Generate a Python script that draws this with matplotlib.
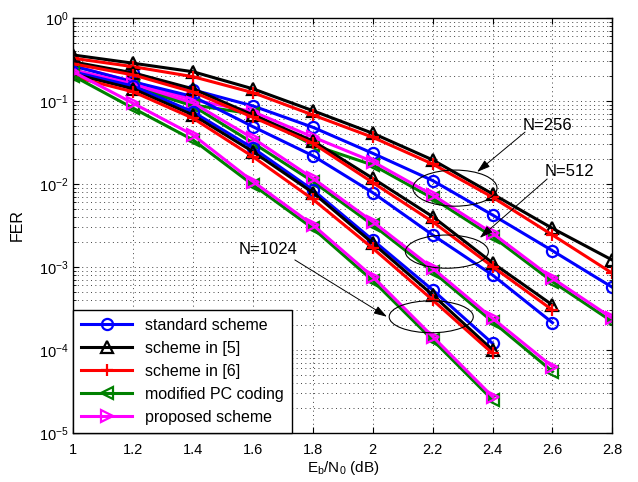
# FER vs Eb/N0 for polar code schemes, N = 256 / 512 / 1024
import numpy as np
import matplotlib
matplotlib.use("Agg")
import matplotlib.pyplot as plt
from matplotlib.patches import Ellipse
from matplotlib.ticker import FixedLocator, FormatStrFormatter, LogLocator

plt.rcParams['font.family'] = ['Liberation Sans', 'DejaVu Sans']
plt.rcParams['mathtext.fontset'] = 'custom'
plt.rcParams['mathtext.rm'] = 'Liberation Sans'
plt.rcParams['mathtext.it'] = 'Liberation Sans'

# 数据
ebn0 = [1.0, 1.2, 1.4, 1.6, 1.8, 2.0, 2.2, 2.4, 2.6, 2.8]

# N=256
std_256 = [0.285, 0.216, 0.136, 0.0871, 0.0482, 0.0234, 0.0110, 0.00423, 0.00157, 0.000569]
s5_256 = [0.358, 0.285, 0.225, 0.140, 0.0764, 0.0408, 0.0195, 0.00758, 0.00292, 0.00121]
s6_256 = [0.327, 0.259, 0.196, 0.126, 0.0678, 0.0365, 0.0174, 0.00692, 0.00243, 0.00084]
mod_256 = [0.236, 0.156, 0.0895, 0.0697, 0.0295, 0.0169, 0.00673, 0.00232, 0.000665, 0.000219]
prop_256 = [0.264, 0.171, 0.103, 0.0743, 0.0368, 0.0186, 0.00737, 0.00255, 0.000731, 0.000241]

# N=512
std_512 = [0.264, 0.17, 0.113, 0.049, 0.0219, 0.00786, 0.00243, 0.0008, 0.000213]
s5_512 = [0.295, 0.218, 0.140, 0.0678, 0.0330, 0.0117, 0.00404, 0.00112, 0.000348]
s6_512 = [0.28, 0.206, 0.128, 0.0636, 0.0309, 0.0104, 0.00351, 0.00101, 0.000303]
mod_512 = [0.217, 0.147, 0.0870, 0.0312, 0.0107, 0.00321, 0.000878, 0.000219, 5.5e-5]
prop_512 = [0.236, 0.160, 0.0946, 0.0355, 0.0117, 0.00351, 0.000965, 0.000241, 6.3e-5]

# N=1024
std_1024 = [0.224, 0.151, 0.0737, 0.0271, 0.00847, 0.00211, 0.000528, 0.00012]
s5_1024 = [0.212, 0.14, 0.0678, 0.0245, 0.00786, 0.00193, 0.00046, 0.0001]
s6_1024 = [0.196, 0.129, 0.0619, 0.0213, 0.00654, 0.00168, 0.0004, 9.1e-5]
mod_1024 = [0.2, 0.0817, 0.0339, 0.00973, 0.00292, 0.000684, 0.000132, 2.5e-5]
prop_1024 = [0.224, 0.0938, 0.0389, 0.0107, 0.00321, 0.000764, 0.000145, 2.74e-5]

labels = ["standard scheme", "scheme in [5]", "scheme in [6]",
          "modified PC coding", "proposed scheme"]
colors = ["#0000ff", "#000000", "#ff0000", "#008000", "#ff00ff"]
markers = ["o", "^", "+", "<", ">"]

groups = [
    [std_256, s5_256, s6_256, mod_256, prop_256],
    [std_512, s5_512, s6_512, mod_512, prop_512],
    [std_1024, s5_1024, s6_1024, mod_1024, prop_1024],
]

fig = plt.figure(figsize=(6.38, 4.82), dpi=100)
ax = fig.add_axes([0.1149, 0.1017, 0.8449, 0.861])

handles = []
for g in groups:
    for i, ys in enumerate(g):
        h, = ax.plot(ebn0[:len(ys)], ys, color=colors[i], marker=markers[i],
                     lw=2.2, ms=8, mew=1.6, mfc='none', label=labels[i])
        if g is groups[0]:
            handles.append(h)

ax.set_yscale('log')
ax.set_xlim(1, 2.8)
ax.set_ylim(1e-5, 1)
ax.xaxis.set_major_locator(FixedLocator(ebn0))
ax.xaxis.set_major_formatter(FormatStrFormatter('%g'))
ax.yaxis.set_major_locator(LogLocator(base=10, numticks=10))
ax.yaxis.set_minor_locator(LogLocator(base=10, subs=np.arange(2, 10), numticks=20))

ax.tick_params(which='both', direction='in', top=True, right=True, labelsize=10.5)
ax.tick_params(which='major', length=4, width=0.8)
ax.tick_params(which='minor', length=2, width=0.6)
ax.tick_params(axis='x', which='major', pad=7)
ax.grid(True, which='major', linestyle=(0, (1, 3.5)), color='k', lw=0.7, alpha=0.75)
ax.grid(True, which='minor', axis='y', linestyle=(0, (1, 3.5)), color='k', lw=0.7, alpha=0.75)
for s in ax.spines.values():
    s.set_linewidth(1.0)

ax.set_xlabel(r'$\mathregular{E_b/N_0}$ (dB)', fontsize=11, labelpad=2)
ax.set_ylabel('FER', fontsize=11.5, labelpad=10)

leg = ax.legend(handles=handles, loc='lower left', borderaxespad=0, fontsize=11.5,
                fancybox=False, edgecolor='k', framealpha=1, handlelength=3.2,
                labelspacing=0.5, borderpad=0.5)
leg.get_frame().set_linewidth(1.0)

# 椭圆和箭头标注
ells = [(0.708, 0.590, 0.156, 0.087), (0.693, 0.437, 0.154, 0.080),
        (0.664, 0.280, 0.156, 0.077)]
for cx, cy, w, hh in ells:
    ax.add_patch(Ellipse((cx, cy), w, hh, transform=ax.transAxes,
                         fill=False, ec='k', lw=0.8, zorder=5))

notes = [("N=256", (0.880, 0.742), (0.838, 0.725), (0.749, 0.629)),
         ("N=512", (0.921, 0.629), (0.879, 0.612), (0.754, 0.470)),
         ("N=1024", (0.361, 0.441), (0.411, 0.417), (0.582, 0.280))]
for txt, tpos, tail, head in notes:
    ax.text(tpos[0], tpos[1], txt, transform=ax.transAxes, fontsize=12,
            ha='center', va='center', zorder=6)
    ax.annotate('', xy=head, xycoords='axes fraction', xytext=tail,
                textcoords='axes fraction',
                arrowprops=dict(arrowstyle='-|>,head_length=0.8,head_width=0.25',
                                color='k', lw=0.7, shrinkA=0, shrinkB=0), zorder=6)

fig.savefig("out.png", dpi=100)
